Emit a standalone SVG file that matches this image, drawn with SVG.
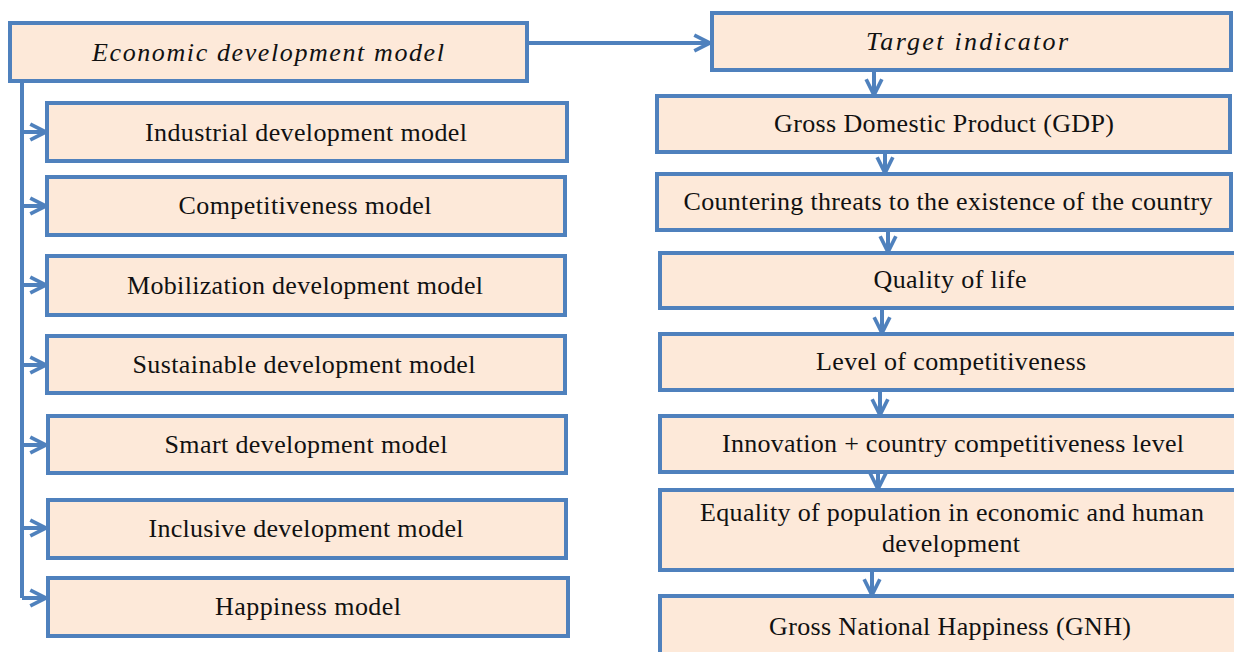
<svg xmlns="http://www.w3.org/2000/svg" width="1234" height="652" viewBox="0 0 1234 652">
<defs>
<style>
.box{fill:#FDE9D9;stroke:#4F81BD;stroke-width:4}
.t{font-family:"Liberation Serif","DejaVu Serif","Times New Roman",serif;font-size:26px;fill:#111;text-anchor:middle}
.i{font-style:italic}
.c{stroke:#4F81BD;stroke-width:4;fill:none}
</style>
<marker id="ah" viewBox="0 0 14 14" refX="12" refY="7" markerWidth="20" markerHeight="20" markerUnits="userSpaceOnUse" orient="auto">
<path d="M1,1.5 L12,7 L1,12.5" fill="none" stroke="#4F81BD" stroke-width="2.6" stroke-linejoin="miter"/>
</marker>
</defs>
<rect width="1234" height="652" fill="#fff"/>
<g id="connectors">
<path class="c" d="M527,43 H710" marker-end="url(#ah)"/>
<path class="c" d="M22,81 V598"/>
<path class="c" d="M22,132 H46" marker-end="url(#ah)"/>
<path class="c" d="M22,206 H46" marker-end="url(#ah)"/>
<path class="c" d="M22,285 H46" marker-end="url(#ah)"/>
<path class="c" d="M22,365 H46" marker-end="url(#ah)"/>
<path class="c" d="M22,445 H46" marker-end="url(#ah)"/>
<path class="c" d="M22,528 H46" marker-end="url(#ah)"/>
<path class="c" d="M22,598 H46" marker-end="url(#ah)"/>
<path class="c" d="M874,70 V95" marker-end="url(#ah)"/>
<path class="c" d="M885,152 V173" marker-end="url(#ah)"/>
<path class="c" d="M888,230 V252" marker-end="url(#ah)"/>
<path class="c" d="M882,308 V333" marker-end="url(#ah)"/>
<path class="c" d="M880,390 V415" marker-end="url(#ah)"/>
<path class="c" d="M878,472 V489" marker-end="url(#ah)"/>
<path class="c" d="M872,570 V595" marker-end="url(#ah)"/>
</g>
<g id="economic-development-model"><rect class="box" x="10" y="23" width="517" height="58"/><text class="t i" x="268" y="61" textLength="352" lengthAdjust="spacing">Economic development model</text></g>
<g id="industrial"><rect class="box" x="47" y="103" width="520" height="58"/><text class="t" x="306" y="141" textLength="322" lengthAdjust="spacing">Industrial development model</text></g>
<g id="competitiveness"><rect class="box" x="47" y="177" width="518" height="58"/><text class="t" x="305" y="214" textLength="253" lengthAdjust="spacing">Competitiveness model</text></g>
<g id="mobilization"><rect class="box" x="47" y="256" width="518" height="59"/><text class="t" x="305" y="294" textLength="356" lengthAdjust="spacing">Mobilization development model</text></g>
<g id="sustainable"><rect class="box" x="47" y="336" width="518" height="57"/><text class="t" x="304" y="373" textLength="343" lengthAdjust="spacing">Sustainable development model</text></g>
<g id="smart"><rect class="box" x="48" y="416" width="518" height="57"/><text class="t" x="306" y="453" textLength="283" lengthAdjust="spacing">Smart development model</text></g>
<g id="inclusive"><rect class="box" x="48" y="500" width="518" height="58"/><text class="t" x="306" y="537" textLength="315" lengthAdjust="spacing">Inclusive development model</text></g>
<g id="happiness"><rect class="box" x="48" y="578" width="520" height="58"/><text class="t" x="308" y="615" textLength="186" lengthAdjust="spacing">Happiness model</text></g>
<g id="target-indicator"><rect class="box" x="712" y="13" width="519" height="57"/><text class="t i" x="967" y="50" textLength="202" lengthAdjust="spacing">Target indicator</text></g>
<g id="gdp"><rect class="box" x="657" y="96" width="573" height="56"/><text class="t" x="944" y="132" textLength="340" lengthAdjust="spacing">Gross Domestic Product (GDP)</text></g>
<g id="countering"><rect class="box" x="657" y="174" width="574" height="56"/><text class="t" x="948" y="210" textLength="529" lengthAdjust="spacing">Countering threats to the existence of the country</text></g>
<g id="quality"><rect class="box" x="660" y="253" width="580" height="55"/><text class="t" x="950" y="288" textLength="153" lengthAdjust="spacing">Quality of life</text></g>
<g id="level"><rect class="box" x="660" y="334" width="580" height="56"/><text class="t" x="951" y="370" textLength="270" lengthAdjust="spacing">Level of competitiveness</text></g>
<g id="innovation"><rect class="box" x="660" y="416" width="580" height="56"/><text class="t" x="953" y="452" textLength="462" lengthAdjust="spacing">Innovation + country competitiveness level</text></g>
<g id="equality"><rect class="box" x="660" y="490" width="580" height="80"/><text class="t" x="952" y="521" textLength="504" lengthAdjust="spacing">Equality of population in economic and human</text><text class="t" x="951" y="552" textLength="138" lengthAdjust="spacing">development</text></g>
<g id="gnh"><rect class="box" x="660" y="596" width="580" height="60"/><text class="t" x="950" y="635" textLength="362" lengthAdjust="spacing">Gross National Happiness (GNH)</text></g>
</svg>
